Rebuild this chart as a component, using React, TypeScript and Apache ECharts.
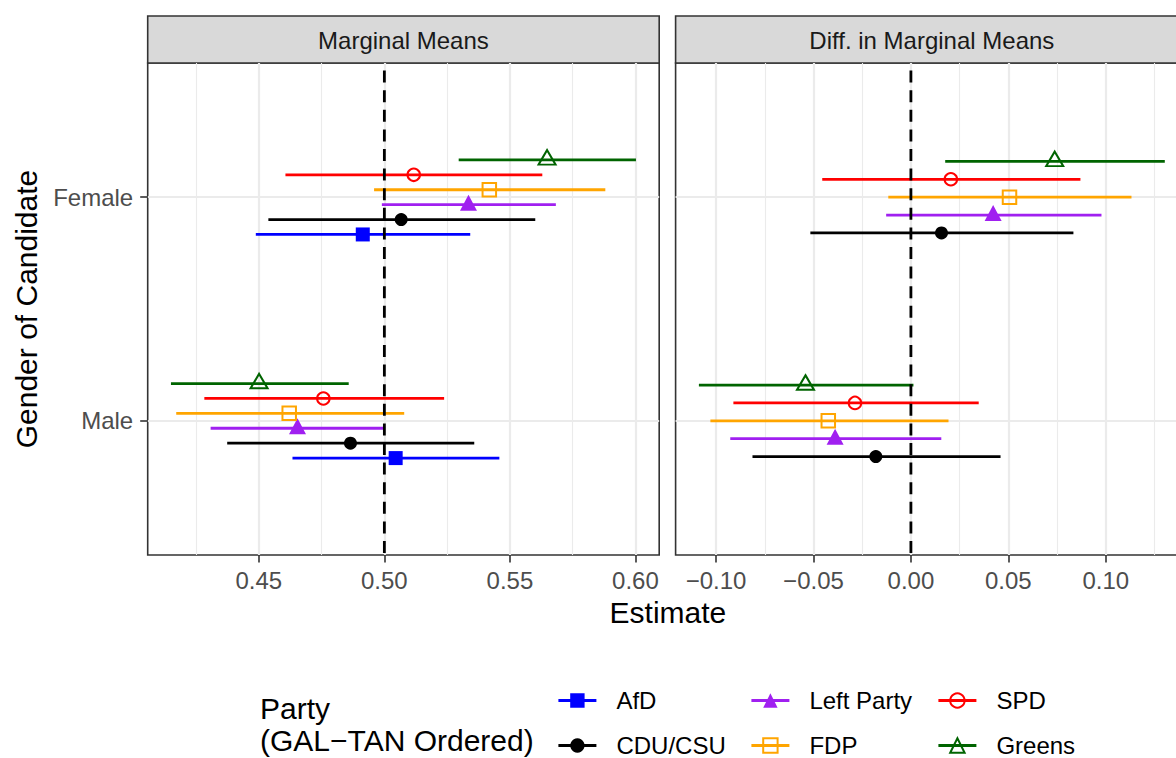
import React, { useEffect, useRef } from "react";
import * as echarts from "echarts";

// ---------- data ----------
const genders = ["Male", "Female"]; // plotted at y = 1, 2
const mmParties = ["AfD", "CDU/CSU", "Left Party", "FDP", "SPD", "Greens"];
const diffParties = ["CDU/CSU", "Left Party", "FDP", "SPD", "Greens"];

const mmEstMale = [0.5045, 0.4865, 0.4654, 0.4621, 0.4757, 0.4501];
const mmLowMale = [0.4634, 0.4374, 0.4308, 0.4171, 0.4283, 0.415];
const mmHighMale = [0.5458, 0.5358, 0.5003, 0.5079, 0.5238, 0.4858];
const mmEstFemale = [0.4914, 0.5067, 0.5335, 0.5418, 0.5117, 0.5648];
const mmLowFemale = [0.4488, 0.4538, 0.499, 0.4959, 0.4606, 0.5296];
const mmHighFemale = [0.5342, 0.5601, 0.5683, 0.588, 0.5629, 0.6002];

const diffEstMale = [-0.018, -0.0389, -0.0424, -0.0287, -0.0541];
const diffLowMale = [-0.0813, -0.0927, -0.1029, -0.0911, -0.1088];
const diffHighMale = [0.046, 0.0156, 0.0193, 0.0348, 0.0013];
const diffEstFemale = [0.0157, 0.0422, 0.0506, 0.0205, 0.0738];
const diffLowFemale = [-0.0516, -0.0127, -0.0116, -0.0455, 0.0176];
const diffHighFemale = [0.0834, 0.0978, 0.1132, 0.087, 0.1303];

const mmTicks = [0.45, 0.5, 0.55, 0.6];
const diffTicks = [-0.1, -0.05, 0, 0.05, 0.1];
const mmReference = 0.5;
const diffReference = 0;
const stripTitles = ["Marginal Means", "Diff. in Marginal Means"];

// ---------- styles ----------
const FONT = '"Liberation Sans", Arial, sans-serif';
const partyColors = ["#0000FF", "#000000", "#A020F0", "#FFA500", "#FF0000", "#006400"];
const partySymbols = ["rect", "circle", "triangle", "rect", "circle", "triangle"];
const partyHollow = [false, false, false, true, true, true];
const partySizes: any[] = [14, 13, [17, 16], 13.5, 12.5, [17, 14.5]];
const partyOffsets: any[] = [[0, 0], [0, 0], [0, -2], [0, 0], [0, 0], [0, -2.5]];

const CANVAS_W = 1200; // wider than the window: the right panel is cropped as in the reference
const CANVAS_H = 758;
const GRID_L = [147.7, 675.6];
const GRID_W = [511.5, 512.5];
const GRID_T = 63;
const GRID_H = 492;
const STRIP_T = 16;
const DODGE = 0.4;
const LINE_W = 2.8;

function paddedRange(lows: number[][], highs: number[][]) {
  const lo = Math.min(...lows.flat());
  const hi = Math.max(...highs.flat());
  const pad = (hi - lo) * 0.05;
  return [lo - pad, hi + pad];
}

const fmt = (v: number) => (v < -1e-9 ? "\u2212" : "") + Math.abs(v).toFixed(2);

function buildOption() {
  const panels = [
    {
      parties: mmParties,
      est: [mmEstMale, mmEstFemale],
      low: [mmLowMale, mmLowFemale],
      high: [mmHighMale, mmHighFemale],
      ref: mmReference,
      ticks: mmTicks,
    },
    {
      parties: diffParties,
      est: [diffEstMale, diffEstFemale],
      low: [diffLowMale, diffLowFemale],
      high: [diffHighMale, diffHighFemale],
      ref: diffReference,
      ticks: diffTicks,
    },
  ];
  const yRange = [1 - 0.6, genders.length + 0.6];
  const yMid = (yRange[0] + yRange[1]) / 2;

  const series: any[] = [];
  // legend carriers (no data)
  mmParties.forEach((p, k) => {
    series.push({
      type: "line",
      name: p,
      data: [],
      xAxisIndex: 0,
      yAxisIndex: 0,
      symbol: partySymbols[k],
      symbolSize: partySizes[k],
      lineStyle: { color: partyColors[k], width: LINE_W },
      itemStyle: partyHollow[k]
        ? { color: "rgba(0,0,0,0)", borderColor: partyColors[k], borderWidth: 2 }
        : { color: partyColors[k] },
      silent: true,
    });
  });

  panels.forEach((pan, pi) => {
    const n = pan.parties.length;
    pan.parties.forEach((p, j) => {
      const k = mmParties.indexOf(p);
      const off = (j - (n - 1) / 2) * (DODGE / n);
      const color = partyColors[k];
      const bars = genders.map((_, gi) => [pan.low[gi][j], pan.high[gi][j], gi + 1 + off]);
      const pts = genders.map((_, gi) => [pan.est[gi][j], gi + 1 + off]);
      series.push({
        type: "custom",
        name: p + " interval " + pi,
        xAxisIndex: pi,
        yAxisIndex: pi,
        data: bars,
        encode: { x: [0, 1], y: 2 },
        z: 3,
        silent: true,
        renderItem: (_params: any, api: any) => {
          const a = api.coord([api.value(0), api.value(2)]);
          const b = api.coord([api.value(1), api.value(2)]);
          return {
            type: "line",
            shape: { x1: a[0], y1: a[1], x2: b[0], y2: b[1] },
            style: { stroke: color, lineWidth: LINE_W, lineCap: "butt" },
          };
        },
      });
      series.push({
        type: "scatter",
        name: p + " estimate " + pi,
        xAxisIndex: pi,
        yAxisIndex: pi,
        data: pts,
        z: 3,
        silent: true,
        symbol: partySymbols[k],
        symbolSize: partySizes[k],
        symbolOffset: partyOffsets[k],
        itemStyle: partyHollow[k]
          ? { color: "rgba(0,0,0,0)", borderColor: color, borderWidth: 2, opacity: 1 }
          : { color, borderWidth: 0, opacity: 1 },
      });
    });
    series.push({
      type: "custom",
      name: "reference " + pi,
      xAxisIndex: pi,
      yAxisIndex: pi,
      data: [[pan.ref, yMid]],
      encode: { x: 0, y: 1 },
      z: 5,
      silent: true,
      renderItem: (params: any, api: any) => {
        const cs = params.coordSys;
        const x = api.coord([api.value(0), api.value(1)])[0];
        return {
          type: "line",
          shape: { x1: x, y1: cs.y, x2: x, y2: cs.y + cs.height },
          style: { stroke: "#000000", lineWidth: LINE_W, lineDash: [12, 7.6], lineDashOffset: 12 },
        };
      },
    });
  });

  const xRanges = panels.map((pan) => paddedRange(pan.low, pan.high));

  const grid = [0, 1].map((i) => ({
    left: GRID_L[i],
    top: GRID_T,
    width: GRID_W[i],
    height: GRID_H,
    show: true,
    borderColor: "#333333",
    borderWidth: 1.6,
    backgroundColor: "transparent",
    containLabel: false,
  }));

  const xAxis = panels.map((pan, i) => ({
    type: "value",
    gridIndex: i,
    min: xRanges[i][0],
    max: xRanges[i][1],
    minInterval: 0.05,
    maxInterval: 0.05,
    axisLine: { show: false },
    axisTick: {
      show: true,
      length: 7.5,
      customValues: pan.ticks,
      lineStyle: { color: "#333333", width: 1.6 },
    },
    axisLabel: {
      customValues: pan.ticks,
      formatter: fmt,
      margin: 13,
      fontSize: 24,
      color: "#4D4D4D",
      fontFamily: FONT,
    },
    splitLine: { show: true, lineStyle: { color: "#EBEBEB", width: 2.2 } },
    minorTick: { show: false, splitNumber: 2 },
    minorSplitLine: { show: true, lineStyle: { color: "#EBEBEB", width: 1.1 } },
  }));

  const yAxis = [0, 1].map((i) => ({
    type: "value",
    gridIndex: i,
    min: yRange[0],
    max: yRange[1],
    axisLine: { show: false },
    axisTick: {
      show: i === 0,
      length: 7.5,
      customValues: genders.map((_, gi) => gi + 1),
      lineStyle: { color: "#333333", width: 1.6 },
    },
    axisLabel: {
      show: i === 0,
      customValues: genders.map((_, gi) => gi + 1),
      formatter: (v: number) => genders[Math.round(v) - 1] ?? "",
      margin: 14.5,
      fontSize: 24,
      color: "#4D4D4D",
      fontFamily: FONT,
    },
    splitLine: { show: true, lineStyle: { color: "#EBEBEB", width: 2.2 } },
  }));

  const legendCols = [
    [mmParties[0], mmParties[1]],
    [mmParties[2], mmParties[3]],
    [mmParties[4], mmParties[5]],
  ];
  const legendLefts = [557, 750, 937];
  const legend = legendCols.map((names, c) => ({
    orient: "vertical",
    left: legendLefts[c],
    top: 688.5,
    width: 200,
    height: 120,
    padding: 0,
    itemWidth: 38,
    itemHeight: 18,
    itemGap: 21,
    selectedMode: false,
    lineStyle: { width: LINE_W },
    textStyle: {
      fontSize: 24,
      fontFamily: FONT,
      color: "#000000",
      lineHeight: 18,
      padding: [0, 0, 0, 15],
    },
    data: names.map((nm) => {
      const k = mmParties.indexOf(nm);
      return {
        name: nm,
        lineStyle: { color: partyColors[k], width: LINE_W },
        itemStyle: partyHollow[k]
          ? { color: "rgba(0,0,0,0)", borderColor: partyColors[k], borderWidth: 2 }
          : { color: partyColors[k], borderWidth: 0 },
      };
    }),
  }));

  const graphic: any[] = [];
  [0, 1].forEach((i) => {
    graphic.push({
      type: "rect",
      shape: { x: GRID_L[i], y: STRIP_T, width: GRID_W[i], height: GRID_T - STRIP_T },
      style: { fill: "#D9D9D9", stroke: "#333333", lineWidth: 1.6 },
      silent: true,
    });
    graphic.push({
      type: "text",
      x: GRID_L[i] + GRID_W[i] / 2,
      y: 40.5,
      silent: true,
      style: {
        text: stripTitles[i],
        fontSize: 24,
        fontFamily: FONT,
        fill: "#1A1A1A",
        align: "center",
        verticalAlign: "middle",
      },
    });
  });
  graphic.push({
    type: "text",
    x: 26.5,
    y: GRID_T + GRID_H / 2,
    rotation: Math.PI / 2,
    silent: true,
    style: {
      text: "Gender of Candidate",
      fontSize: 30,
      fontFamily: FONT,
      fill: "#000000",
      align: "center",
      verticalAlign: "middle",
    },
  });
  graphic.push({
    type: "text",
    x: (GRID_L[0] + GRID_L[1] + GRID_W[1]) / 2,
    y: 612,
    silent: true,
    style: {
      text: "Estimate",
      fontSize: 30,
      fontFamily: FONT,
      fill: "#000000",
      align: "center",
      verticalAlign: "middle",
    },
  });
  graphic.push({
    type: "text",
    x: 260,
    y: 692.8,
    silent: true,
    style: {
      text: "Party\n(GAL\u2212TAN Ordered)",
      fontSize: 30,
      lineHeight: 31.5,
      fontFamily: FONT,
      fill: "#000000",
      align: "left",
      verticalAlign: "top",
    },
  });

  return {
    animation: false,
    backgroundColor: "#FFFFFF",
    grid,
    xAxis,
    yAxis,
    legend,
    series,
    graphic,
  };
}

export default function App() {
  const ref = useRef<HTMLDivElement>(null);
  useEffect(() => {
    if (!ref.current) return;
    const chart = echarts.init(ref.current, undefined, { renderer: "svg" });
    chart.setOption(buildOption() as any);
    return () => chart.dispose();
  }, []);
  return (
    <div
      style={{
        position: "fixed",
        left: 0,
        top: 0,
        width: 1176,
        height: 758,
        overflow: "hidden",
        background: "#fff",
      }}
    >
      <div ref={ref} style={{ width: CANVAS_W, height: CANVAS_H }} />
    </div>
  );
}
